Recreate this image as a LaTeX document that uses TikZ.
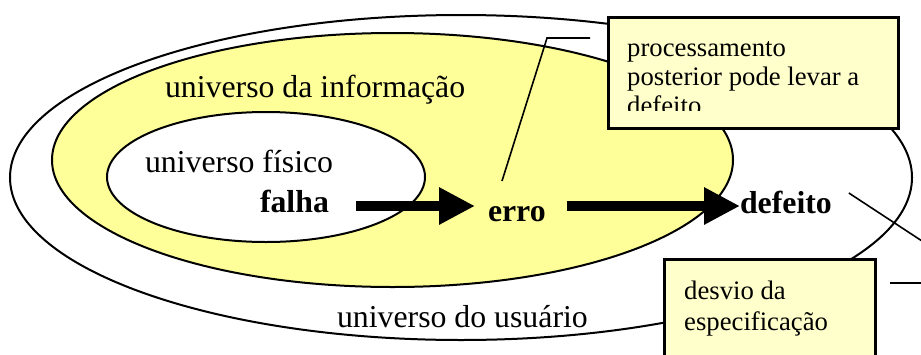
\documentclass[tikz,border=0pt]{standalone}
\usepackage{fontspec}
\setmainfont{Liberation Serif}
\usetikzlibrary{arrows.meta,calc}
\definecolor{infoyellow}{HTML}{FFFF99}
\definecolor{noteyellow}{HTML}{FFFFCC}
\tikzset{
  ring/.style={draw=black, line width=2pt},
  biglabel/.style={font=\fontsize{31.8}{36}\selectfont, anchor=base west, inner sep=0pt, outer sep=0pt},
  boldlabel/.style={biglabel, font=\fontsize{31.8}{36}\selectfont\bfseries},
  notetext/.style={font=\fontsize{26.7}{30}\selectfont, anchor=base west, inner sep=0pt},
  notebox/.style={draw=black, line width=3pt, fill=noteyellow, inner sep=0pt, anchor=north west},
  bigarrow/.style={line width=10pt, -{Triangle[length=36pt,width=35pt]}},
  leader/.style={draw=black, line width=1.6pt}
}
\begin{document}
\begin{tikzpicture}[x=1pt,y=-1pt]
\useasboundingbox (0,0) rectangle (921,354);
\clip (0,0) rectangle (921,354);
% universes
\draw[ring, fill=white] (461,177.5) ellipse [x radius=451pt, y radius=162.5pt];
\draw[ring, fill=infoyellow] (392.5,160) ellipse [x radius=340.5pt, y radius=127pt];
\draw[ring, fill=white] (266,177) ellipse [x radius=159pt, y radius=65pt];
% labels
\node[biglabel] (uinfo) at (165,97) {universo da informação};
\node[biglabel] (ufis) at (145,172) {universo físico};
\node[biglabel] (uusu) at (337,327) {universo do usuário};
\node[boldlabel] (falha) at (260,212) {falha};
\node[boldlabel] (erro) at (488,221) {erro};
\node[boldlabel] (defeito) at (740,213) {defeito};
% arrows
\draw[bigarrow] ($(falha.base east)+(27,-6)$) -- ($(erro.base west)+(-13,-15)$);
\draw[bigarrow] ($(erro.base east)+(21,-15)$) -- ($(defeito.base west)+(0,-7)$);
% callout 1
\coordinate (l1a) at ($(erro.base west)+(14,-40)$);
\coordinate (l1b) at (547,38);
\coordinate (l1c) at (590,38);
\draw[leader] (l1a) -- (l1b) -- (l1c);
\node[notebox, minimum width=290pt, minimum height=111pt] (note1) at (607,16) {};
\begin{scope}
\clip (607,16) rectangle (897,110);
\node[notetext] (n1a) at (627,56) {processamento};
\node[notetext] (n1b) at (627,85) {posterior pode levar a};
\node[notetext] (n1c) at (627,114) {defeito};
\end{scope}
% callout 2
\coordinate (l2a) at ($(defeito.base east)+(17,-20)$);
\coordinate (l2b) at (986,283);
\coordinate (l2c) at (890,283);
\draw[leader] (l2a) -- (l2b) -- (l2c);
\node[notebox, minimum width=211pt, minimum height=130pt] (note2) at (663,258) {};
\node[notetext] (n2a) at (684,299) {desvio da};
\node[notetext] (n2b) at (684,330) {especificação};
\end{tikzpicture}
\end{document}
